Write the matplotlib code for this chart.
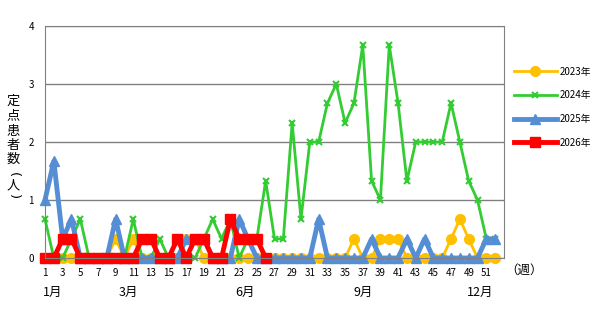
import matplotlib.pyplot as plt
from matplotlib.transforms import blended_transform_factory

plt.rcParams['font.family'] = ['Noto Sans CJK JP', 'DejaVu Sans']

weeks = list(range(1, 53))
weeks_2026 = list(range(1, 27))

v2023 = [0, 0, 0, 0, 0, 0, 0, 0, 0.33, 0, 0.33, 0, 0, 0, 0, 0, 0.33, 0.33, 0, 0,
         0, 0, 0, 0, 0, 0, 0, 0, 0, 0, 0, 0, 0, 0, 0, 0.33, 0, 0, 0.33, 0.33,
         0.33, 0, 0, 0, 0, 0, 0.33, 0.67, 0.33, 0, 0, 0]
v2024 = [0.67, 0, 0, 0.33, 0.67, 0, 0, 0, 0, 0, 0.67, 0, 0, 0.33, 0, 0, 0, 0, 0.33, 0.67,
         0.33, 0.67, 0, 0.33, 0.33, 1.33, 0.33, 0.33, 2.33, 0.67, 2, 2, 2.67, 3, 2.33, 2.67, 3.67, 1.33, 1, 3.67,
         2.67, 1.33, 2, 2, 2, 2, 2.67, 2, 1.33, 1, 0.33, 0.33]
v2025 = [1, 1.67, 0.33, 0.67, 0, 0, 0, 0, 0.67, 0, 0, 0, 0, 0, 0, 0, 0.33, 0.33, 0.33, 0,
         0, 0, 0.67, 0.33, 0, 0, 0, 0, 0, 0, 0, 0.67, 0, 0, 0, 0, 0, 0.33, 0, 0,
         0, 0.33, 0, 0.33, 0, 0, 0, 0, 0, 0, 0.33, 0.33]
v2026 = [0, 0, 0.33, 0.33, 0, 0, 0, 0, 0, 0, 0, 0.33, 0.33, 0, 0, 0.33, 0, 0.33, 0.33, 0,
         0, 0.67, 0.33, 0.33, 0.33, 0]

month_labels = ['1月', '3月', '6月', '9月', '12月']
month_pos = [1.9, 10.5, 23.7, 37.1, 50.3]

# vertical y label: characters stacked, brackets turned sideways
ylabel_chars = ['定', '点', '患', '者', '数', '(', '人', ')']
ylabel_ypix = [101, 116, 131, 145, 159, 175, 186, 197]
ylabel_rot = [0, 0, 0, 0, 0, -90, 0, -90]

fig = plt.figure(figsize=(6.06, 3.12), dpi=100)
ax = fig.add_axes([45 / 606, 1 - 258 / 312, (504 - 45) / 606, (258 - 26) / 312])

ax.plot(weeks, v2023, color='#FFC000', lw=2, marker='o', ms=7, label='2023年', clip_on=False)
ax.plot(weeks, v2024, color='#33CC33', lw=2, marker='x', ms=5, mew=1.5, label='2024年', clip_on=False)
ax.plot(weeks, v2025, color='#558ED5', lw=3.5, marker='^', ms=7.5, label='2025年', clip_on=False)
ax.plot(weeks_2026, v2026, color='#FF0000', lw=3.5, marker='s', ms=7.5, label='2026年', clip_on=False)

ax.set_xlim(1, 53)
ax.set_ylim(0, 4)
ax.set_yticks([0, 1, 2, 3, 4])
ax.set_xticks(range(1, 52, 2))
ax.tick_params(axis='both', length=0, labelsize=7)
ax.tick_params(axis='y', pad=8)
ax.tick_params(axis='x', pad=7)
ax.grid(True, axis='y', color='#808080', lw=1)
for s in ax.spines.values():
    s.set_color('#808080')

trans = blended_transform_factory(ax.transData, fig.transFigure)
for lab, x in zip(month_labels, month_pos):
    ax.text(x, 1 - 292 / 312, lab, transform=trans, ha='center', va='center', fontsize=9)

fig.text(524 / 606, 1 - 270 / 312, '（週）', ha='center', va='center', fontsize=9)
for ch, yp, rot in zip(ylabel_chars, ylabel_ypix, ylabel_rot):
    fig.text(13 / 606, 1 - yp / 312, ch, ha='center', va='center', fontsize=9.5,
             rotation=rot, family=['DejaVu Sans'] if rot else None)

fig.legend(loc='upper left', bbox_to_anchor=(505 / 606, 1 - 58 / 312), frameon=False,
           fontsize=7, handlelength=4.4, labelspacing=1.4, handletextpad=0.3)

fig.savefig('out.png', dpi=100)
